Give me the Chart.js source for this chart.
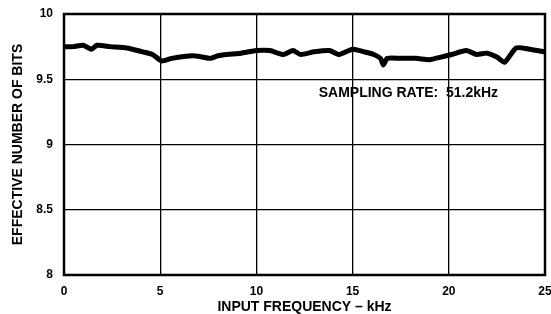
<!DOCTYPE html>
<html>
<head>
<meta charset="utf-8">
<script src="https://cdn.jsdelivr.net/npm/chart.js@4/dist/chart.umd.min.js"></script>
<style>
  html, body { margin: 0; padding: 0; background: #fff; }
  #wrap { width: 551px; height: 314px; }
</style>
</head>
<body>
<div id="wrap"><canvas id="chart" width="551" height="314"></canvas></div>
<script>
// input frequency (kHz) and effective number of bits
const freqKHz = [0, 0.5, 1.0, 1.44, 1.7, 2.4, 3.26, 4.1, 4.6, 5.08, 5.6, 6.7, 7.2, 7.6, 8.0, 8.46, 9.2, 10.0, 10.7, 11.4, 11.9, 12.3, 13.0, 13.8, 14.3, 15.0, 15.6, 16.1, 16.45, 16.6, 16.8, 17.5, 18.3, 19.0, 19.6, 20.15, 20.9, 21.45, 21.97, 22.5, 22.9, 23.5, 24.2, 25]
const enob = [9.75, 9.75, 9.76, 9.73, 9.76, 9.75, 9.74, 9.71, 9.69, 9.64, 9.66, 9.68, 9.67, 9.66, 9.68, 9.69, 9.70, 9.72, 9.72, 9.69, 9.72, 9.69, 9.71, 9.72, 9.69, 9.73, 9.71, 9.69, 9.66, 9.61, 9.66, 9.66, 9.66, 9.65, 9.67, 9.69, 9.72, 9.69, 9.70, 9.67, 9.63, 9.74, 9.73, 9.71]
const xTicks = [0, 5, 10, 15, 20, 25]
const yTicks = [8, 8.5, 9, 9.5, 10]
const noteText = "SAMPLING RATE:  51.2kHz"

const font = "'Liberation Sans', Arial, sans-serif"

const points = freqKHz.map((f, i) => ({x: f, y: enob[i]}))

const frame = {
  id: "frame",
  afterDraw(chart) {
    const {ctx, chartArea: a, scales} = chart
    ctx.save()
    ctx.strokeStyle = "#000"
    ctx.lineWidth = 2.5
    ctx.strokeRect(a.left, a.top, a.right - a.left, a.bottom - a.top)
    ctx.fillStyle = "#000"
    ctx.font = "bold 14px " + font
    ctx.textAlign = "center"
    ctx.textBaseline = "middle"
    ctx.fillText(noteText, scales.x.getPixelForValue(17.9), scales.y.getPixelForValue(9.39))
    ctx.restore()
  }
}

new Chart(document.querySelector("#chart"), {
  type: "line",
  plugins: [frame],
  data: {
    datasets: [{
      data: points,
      borderColor: "#000",
      borderWidth: 5,
      pointRadius: 0,
      tension: 0.2,
      fill: false,
    }],
  },
  options: {
    responsive: false,
    animation: false,
    layout: {padding: {top: 14, right: 6, left: 11, bottom: 0}},
    plugins: {legend: {display: false}, tooltip: {enabled: false}},
    scales: {
      x: {
        type: "linear",
        min: 0, max: 25,
        afterBuildTicks: (s) => { s.ticks = xTicks.map(v => ({value: v})) },
        afterFit: (s) => { s.height = 39; s.paddingLeft = 0; s.paddingRight = 0 },
        grid: {color: "#000", lineWidth: 1.3, drawTicks: false},
        border: {display: false},
        ticks: {color: "#000", padding: 9, maxRotation: 0, font: {family: font, weight: "bold", size: 12}},
        title: {display: true, text: "INPUT FREQUENCY – kHz", color: "#000", padding: {top: 0, bottom: 0}, font: {family: font, weight: "bold", size: 14, lineHeight: 1}},
      },
      y: {
        min: 8, max: 10,
        afterBuildTicks: (s) => { s.ticks = yTicks.map(v => ({value: v})) },
        afterFit: (s) => { s.width = 53; s.paddingTop = 0; s.paddingBottom = 0 },
        grid: {color: "#000", lineWidth: 1.3, drawTicks: false},
        border: {display: false},
        ticks: {color: "#000", padding: 11, callback: (v) => String(v), font: {family: font, weight: "bold", size: 12}},
        title: {display: true, text: "EFFECTIVE NUMBER OF BITS", color: "#000", padding: {top: 0, bottom: 0}, font: {family: font, weight: "bold", size: 14, lineHeight: 1}},
      },
    },
  },
})
</script>
</body>
</html>
